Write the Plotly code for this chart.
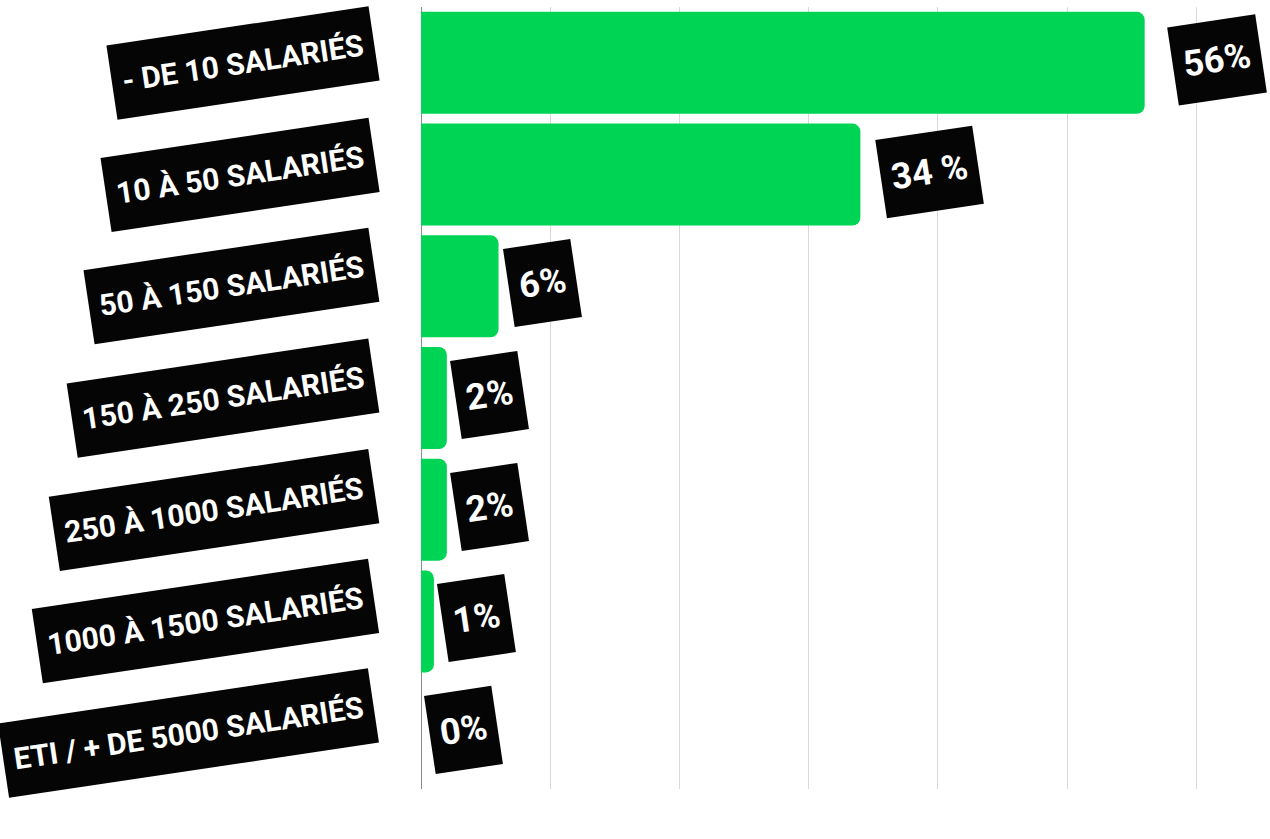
import plotly.graph_objects as go

categories = [
    "- DE 10 SALARIÉS",
    "10 À 50 SALARIÉS",
    "50 À 150 SALARIÉS",
    "150 À 250 SALARIÉS",
    "250 À 1000 SALARIÉS",
    "1000 À 1500 SALARIÉS",
    "ETI / + DE 5000 SALARIÉS",
]
values = [56, 34, 6, 2, 2, 1, 0]
value_labels = ["56%", "34 %", "6%", "2%", "2%", "1%", "0%"]

GREEN = "#00D455"
BLACK = "#050505"
FONT = "Roboto, sans-serif"

fig = go.Figure(
    go.Bar(
        x=values,
        y=categories,
        orientation="h",
        marker=dict(color=GREEN, line=dict(width=0)),
        hoverinfo="skip",
    )
)

fig.update_layout(
    width=1270,
    height=839,
    margin=dict(l=421, r=9, t=7, b=50),
    plot_bgcolor="white",
    paper_bgcolor="white",
    bargap=0.087,
    barcornerradius=8,
    showlegend=False,
)
fig.update_xaxes(
    range=[0, 65],
    dtick=10,
    showgrid=True,
    gridcolor="#d9d9d9",
    gridwidth=1,
    zeroline=True,
    zerolinecolor="#8c8c8c",
    zerolinewidth=1,
    showticklabels=False,
    ticks="",
)
fig.update_yaxes(
    range=[len(categories) - 0.5, -0.5],
    autorange=False,
    showticklabels=False,
    showgrid=False,
    zeroline=False,
    ticks="",
)

annotations = []
for cat in categories:
    annotations.append(
        dict(
            x=0, xref="paper", xanchor="right", xshift=-41,
            y=cat, yref="y", yanchor="middle",
            text=cat,
            showarrow=False,
            textangle=-8.5,
            bgcolor=BLACK,
            borderpad=10,
            height=54,
            font=dict(family=FONT, size=30, color="white", weight=700),
        )
    )
for cat, v, lab in zip(categories, values, value_labels):
    annotations.append(
        dict(
            x=v, xref="x", xanchor="left", xshift=2 + 0.35 * v,
            y=cat, yref="y", yanchor="middle", yshift=3,
            text=lab,
            showarrow=False,
            textangle=-8.5,
            bgcolor=BLACK,
            borderpad=10,
            height=58,
            font=dict(family=FONT, size=36, color="white", weight=700),
        )
    )
fig.update_layout(annotations=annotations)

fig.write_html(
    "out.html",
    config={"displayModeBar": False},
    post_script="document.body.style.margin='0';document.body.style.overflow='hidden';",
)
